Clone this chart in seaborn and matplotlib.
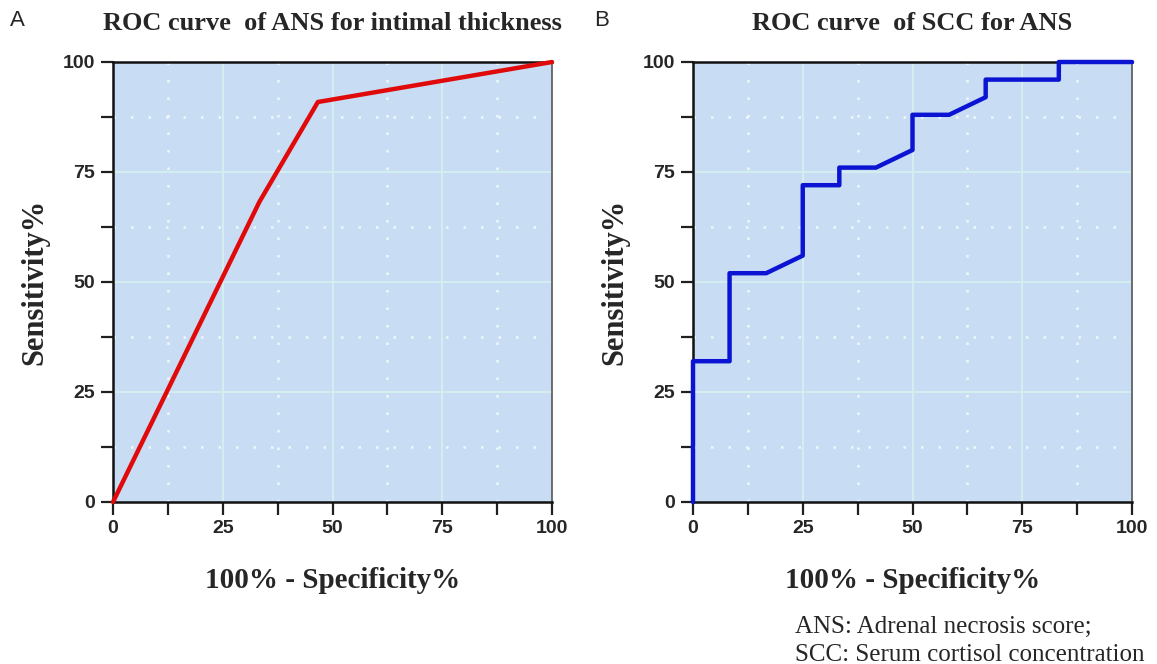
import matplotlib
matplotlib.use("Agg")
import matplotlib.pyplot as plt
import seaborn as sns
import pandas as pd
import numpy as np

# ---- data ----
a_fpr = [0.0, 33.33, 46.67, 100.0]
a_tpr = [0.0, 68.18, 90.91, 100.0]

b_fpr = [0, 0, 8.33, 8.33, 16.67, 25, 25, 33.33, 33.33, 41.67, 50, 50, 58.33, 66.67, 66.67, 83.33, 83.33, 100]
b_tpr = [0, 32, 32, 52, 52, 56, 72, 72, 76, 76, 80, 88, 88, 92, 96, 96, 100, 100]

ticks = [0, 25, 50, 75, 100]
tick_labels = ["0", "25", "50", "75", "100"]
titles = ["ROC curve  of ANS for intimal thickness", "ROC curve  of SCC for ANS"]
panel_letters = ["A", "B"]
xlabel = "100% - Specificity%"
ylabel = "Sensitivity%"
footnote = ["ANS: Adrenal necrosis score;", "SCC: Serum cortisol concentration"]

sns.set_style("white")
plt.rcParams['font.family'] = ['Liberation Sans', 'DejaVu Sans']

W, H = 1157, 664
fig = plt.figure(figsize=(W / 100, H / 100), dpi=100)

def px_axes(l, r, t, b):
    return [l / W, 1 - b / H, (r - l) / W, (b - t) / H]

axA = fig.add_axes(px_axes(113, 552, 62, 502))
axB = fig.add_axes(px_axes(693, 1132, 62, 502))

bg = "#c8dcf4"
dfA = pd.DataFrame({"x": a_fpr, "y": a_tpr})
dfB = pd.DataFrame({"x": b_fpr, "y": b_tpr})

for ax, df, col, title in [(axA, dfA, "#e00a0a", titles[0]), (axB, dfB, "#0a14d2", titles[1])]:
    ax.set_facecolor(bg)
    ax.set_xlim(0, 100)
    ax.set_ylim(0, 100)
    # grid
    for v in [25, 50, 75]:
        ax.axvline(v, color="#d6f2ee", lw=1.2, zorder=0.5)
        ax.axhline(v, color="#d6f2ee", lw=1.2, zorder=0.5)
    for v in [12.5, 37.5, 62.5, 87.5]:
        ax.axvline(v, color="#eef8fa", lw=1.8, ls=(0, (1, 6)), zorder=0.5)
        ax.axhline(v, color="#eef8fa", lw=1.8, ls=(0, (1, 6)), zorder=0.5)
    sns.lineplot(data=df, x="x", y="y", sort=False, estimator=None, color=col,
                 lw=3.2, ax=ax, clip_on=False, zorder=3)
    ax.set_xticks(ticks)
    ax.set_xticklabels(tick_labels)
    ax.set_yticks(ticks)
    ax.set_yticklabels(tick_labels)
    ax.set_xticks([12.5, 37.5, 62.5, 87.5], minor=True)
    ax.set_yticks([12.5, 37.5, 62.5, 87.5], minor=True)
    ax.tick_params(which="both", direction="out", length=9, width=1.6, color="#202020",
                   bottom=True, left=True, top=False, right=False)
    ax.tick_params(which="major", labelsize=14, pad=4)
    for lab in ax.get_xticklabels() + ax.get_yticklabels():
        lab.set_fontweight("bold")
    for s in ["left", "bottom", "top"]:
        ax.spines[s].set_color("#111111")
        ax.spines[s].set_linewidth(1.8)
    ax.spines["right"].set_color("#555555")
    ax.spines["right"].set_linewidth(1.2)
    ax.set_xlabel(xlabel, fontsize=21, fontweight="bold", family=["Liberation Serif"])
    ax.set_ylabel(ylabel, fontsize=22, fontweight="bold", family=["Liberation Serif"])
    ax.xaxis.set_label_coords(0.5, -0.148)
    ax.yaxis.set_label_coords(-0.144, 0.5)
    ax.set_title(title, fontsize=19, fontweight="bold", family=["Liberation Serif"], pad=23)

fig.text(10 / W, 1 - 21 / H, panel_letters[0], fontsize=16, va="center", ha="left")
fig.text(594 / W, 1 - 21 / H, panel_letters[1], fontsize=16, va="center", ha="left")

fig.text(795 / W, 1 - 627 / H, footnote[0], fontsize=18, family=["Liberation Serif"], va="center", ha="left")
fig.text(795 / W, 1 - 655 / H, footnote[1], fontsize=18, family=["Liberation Serif"], va="center", ha="left")

fig.savefig("out.png", dpi=100)
